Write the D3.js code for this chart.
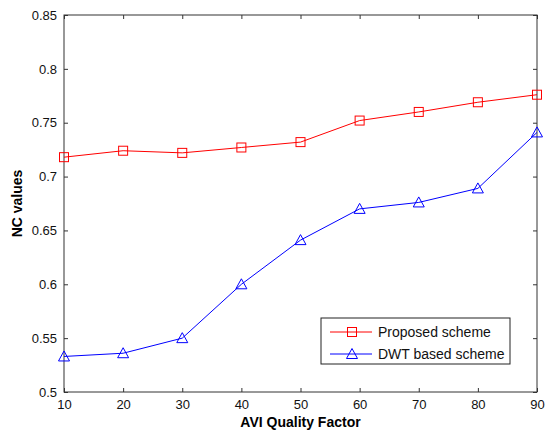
<!DOCTYPE html>
<html>
<head>
<meta charset="utf-8">
<script src="https://cdn.jsdelivr.net/npm/d3@7"></script>
<style>
  body { margin: 0; background: #fff; }
  svg text { font-family: "Liberation Sans", Arial, sans-serif; }
</style>
</head>
<body>
<div id="chart"></div>
<script>
// chart data
const qualityFactors = [10, 20, 30, 40, 50, 60, 70, 80, 90];
const proposedNC = [0.718, 0.724, 0.722, 0.727, 0.732, 0.752, 0.760, 0.769, 0.776];
const dwtNC = [0.533, 0.536, 0.550, 0.600, 0.641, 0.670, 0.676, 0.689, 0.741];
const yTicks = [0.5, 0.55, 0.6, 0.65, 0.7, 0.75, 0.8, 0.85];
const seriesNames = ["Proposed scheme", "DWT based scheme"];

const width = 547, height = 432;
const margin = {left: 64, right: 10, top: 15, bottom: 40};
const innerW = width - margin.left - margin.right;
const innerH = height - margin.top - margin.bottom;

const svg = d3.select("#chart").append("svg")
    .attr("width", width)
    .attr("height", height);

const g = svg.append("g")
    .attr("transform", `translate(${margin.left},${margin.top})`);

const x = d3.scaleLinear().domain([10, 90]).range([0, innerW]);
const y = d3.scaleLinear().domain([0.5, 0.85]).range([innerH, 0]);

// frame
g.append("rect")
    .attr("width", innerW).attr("height", innerH)
    .attr("fill", "none").attr("stroke", "#333").attr("stroke-width", 1);

// axes with inward ticks
const fmt = d => String(+d.toFixed(2));
g.append("g").attr("transform", `translate(0,${innerH})`)
    .call(d3.axisBottom(x).tickValues(qualityFactors).tickSize(-4).tickPadding(8).tickFormat(d3.format("d")));
g.append("g")
    .call(d3.axisLeft(y).tickValues(yTicks).tickSize(-4).tickPadding(7).tickFormat(fmt));
g.append("g").call(d3.axisTop(x).tickValues(qualityFactors).tickSize(-4).tickFormat(""));
g.append("g").attr("transform", `translate(${innerW},0)`)
    .call(d3.axisRight(y).tickValues(yTicks).tickSize(-4).tickFormat(""));

g.selectAll(".domain").remove();
g.selectAll(".tick line").attr("stroke", "#333");
g.selectAll(".tick text").attr("fill", "#111").attr("font-size", "13px");

// axis labels
svg.append("text")
    .attr("x", margin.left + innerW / 2).attr("y", 427)
    .attr("text-anchor", "middle").attr("font-size", "14px").attr("font-weight", "bold")
    .text("AVI Quality Factor");
svg.append("text")
    .attr("transform", `translate(22,${margin.top + innerH / 2}) rotate(-90)`)
    .attr("text-anchor", "middle").attr("font-size", "14px").attr("font-weight", "bold")
    .text("NC values");

const line = d3.line().x((d, i) => x(qualityFactors[i])).y(d => y(d));

// proposed scheme (red squares)
g.append("path").datum(proposedNC)
    .attr("d", line).attr("fill", "none").attr("stroke", "#ff0000").attr("stroke-width", 1);
g.selectAll(".sq").data(proposedNC).enter().append("rect")
    .attr("x", (d, i) => x(qualityFactors[i]) - 4.5)
    .attr("y", d => y(d) - 4.5)
    .attr("width", 9).attr("height", 9)
    .attr("fill", "none").attr("stroke", "#ff0000").attr("stroke-width", 1);

// DWT based scheme (blue triangles)
function triangle(cx, cy) {
    return `M${cx},${cy - 5.5}L${cx + 5.5},${cy + 4.5}L${cx - 5.5},${cy + 4.5}Z`;
}
g.append("path").datum(dwtNC)
    .attr("d", line).attr("fill", "none").attr("stroke", "#0000ff").attr("stroke-width", 1);
g.selectAll(".tri").data(dwtNC).enter().append("path")
    .attr("d", (d, i) => triangle(x(qualityFactors[i]), y(d)))
    .attr("fill", "none").attr("stroke", "#0000ff").attr("stroke-width", 1);

// legend
const lg = svg.append("g").attr("transform", "translate(321,318)");
lg.append("rect").attr("width", 189).attr("height", 46)
    .attr("fill", "#fff").attr("stroke", "#222").attr("stroke-width", 1);
const colors = ["#ff0000", "#0000ff"];
seriesNames.forEach(function(name, i) {
    const ly = 14 + i * 22;
    lg.append("line").attr("x1", 9).attr("x2", 51).attr("y1", ly).attr("y2", ly)
        .attr("stroke", colors[i]).attr("stroke-width", 1);
    if (i === 0) {
        lg.append("rect").attr("x", 26.5).attr("y", ly - 4.5).attr("width", 9).attr("height", 9)
            .attr("fill", "none").attr("stroke", colors[i]);
    } else {
        lg.append("path").attr("d", triangle(31, ly)).attr("fill", "none").attr("stroke", colors[i]);
    }
    lg.append("text").attr("x", 57).attr("y", ly + 5)
        .attr("font-size", "14px").attr("fill", "#111").text(name);
});
</script>
</body>
</html>
